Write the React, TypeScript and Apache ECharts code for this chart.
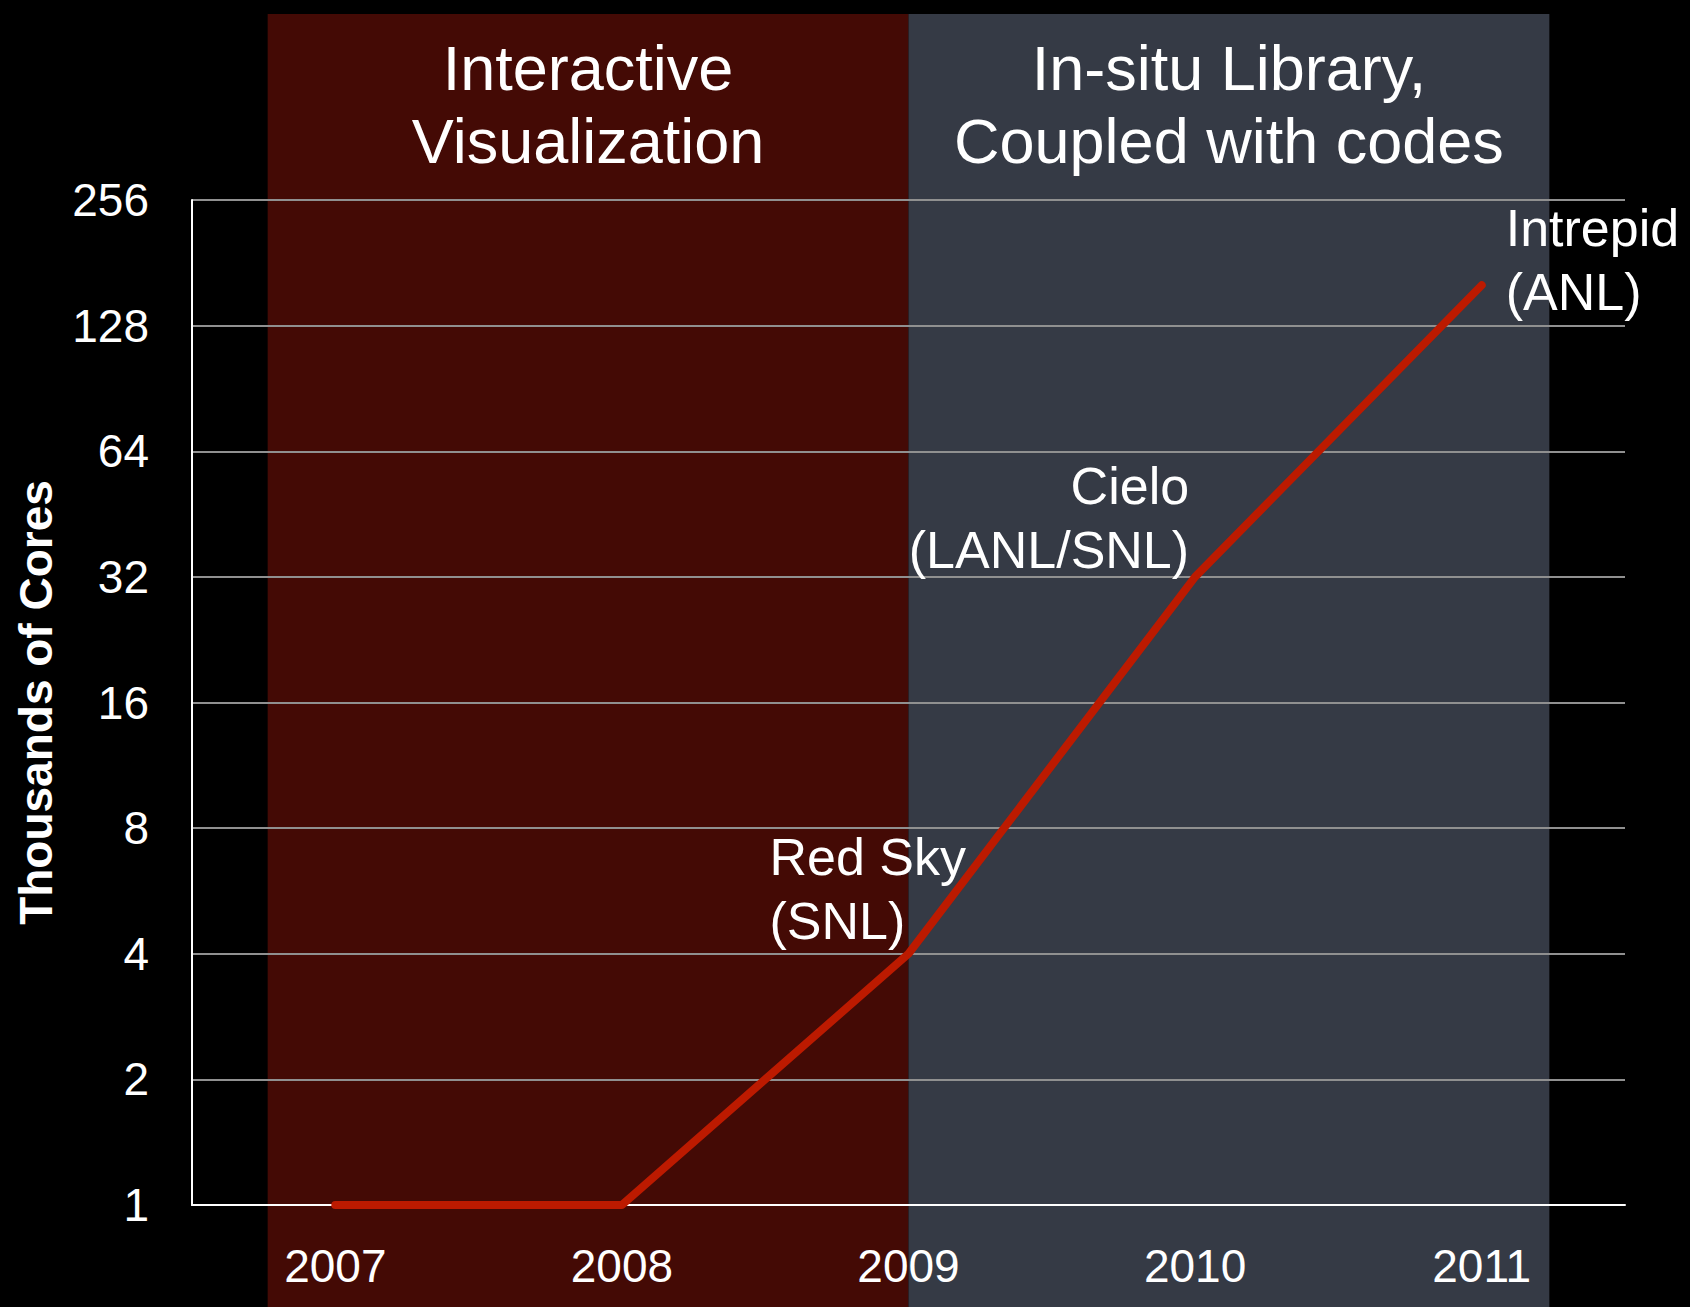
import React, { useEffect, useRef } from "react";
import * as echarts from "echarts";

const years = ["2007", "2008", "2009", "2010", "2011"];
const cores = [1, 1, 4, 32, 160];
const machineLabels = ["", "", "Red Sky\n(SNL)", "Cielo\n(LANL/SNL)", "Intrepid\n(ANL)"];
const eraTitles = ["Interactive\nVisualization", "In-situ Library,\nCoupled with codes"];

const FONT = "'Liberation Sans', Arial, Helvetica, sans-serif";

export default function App() {
  const ref = useRef<HTMLDivElement>(null);

  useEffect(() => {
    document.body.style.margin = "0";
    document.body.style.background = "#000";
    const chart = echarts.init(ref.current!, null, { renderer: "svg" });

    const labelCfg: any[] = [
      null,
      null,
      { align: "left", offset: [-139, -65] },
      { align: "right", offset: [-6, -59] },
      { align: "left", offset: [24, -25] },
    ];

    const data = cores.map((v, i) => {
      const item: any = { value: v };
      if (machineLabels[i]) {
        item.label = {
          show: true,
          formatter: machineLabels[i],
          position: "inside",
          verticalAlign: "middle",
          color: "#fff",
          fontFamily: FONT,
          fontSize: 52,
          lineHeight: 64,
          ...labelCfg[i],
        };
      }
      return item;
    });

    chart.setOption({
      animation: false,
      backgroundColor: "#000",
      grid: { left: 192, right: 65, top: 200, bottom: 102, containLabel: false },
      xAxis: {
        type: "category",
        data: years,
        boundaryGap: true,
        axisLine: { show: true, lineStyle: { color: "#fff", width: 2 } },
        axisTick: { show: false },
        axisLabel: { color: "#fff", fontFamily: FONT, fontSize: 46, margin: 38 },
        splitLine: { show: false },
      },
      yAxis: {
        type: "log",
        logBase: 2,
        min: 1,
        max: 256,
        splitNumber: 8,
        name: "Thousands of Cores",
        nameLocation: "middle",
        nameRotate: 90,
        nameGap: 133,
        nameTextStyle: { color: "#fff", fontFamily: FONT, fontSize: 46, fontWeight: "bold" },
        axisLine: { show: true, lineStyle: { color: "#fff", width: 2 } },
        axisTick: { show: false },
        axisLabel: { color: "#fff", fontFamily: FONT, fontSize: 46, margin: 43 },
        splitLine: { show: true, lineStyle: { color: "#909090", width: 2 } },
      },
      series: [
        {
          type: "line",
          data,
          symbol: "circle",
          symbolSize: 1,
          showSymbol: true,
          itemStyle: { color: "#BC1A00" },
          lineStyle: { color: "#BC1A00", width: 8, cap: "round", join: "round" },
          z: 5,
        },
      ],
    });

    const p09 = chart.convertToPixel({ xAxisIndex: 0 }, "2009") as number;
    const p10 = chart.convertToPixel({ xAxisIndex: 0 }, "2010") as number;
    const band = p10 - p09;
    const half = band * 2.236;
    const leftX = p09 - half;
    const rightX = p09 + half;
    const top = 14;
    const h = 1307 - top;

    chart.setOption({
      graphic: [
        {
          type: "rect",
          z: -100,
          silent: true,
          shape: { x: leftX, y: top, width: half, height: h },
          style: { fill: "#440A05" },
        },
        {
          type: "rect",
          z: -100,
          silent: true,
          shape: { x: p09, y: top, width: half, height: h },
          style: { fill: "#353A45" },
        },
        {
          type: "text",
          z: 10,
          x: (leftX + p09) / 2,
          y: 104,
          style: {
            text: eraTitles[0],
            fill: "#fff",
            fontSize: 63,
            fontFamily: FONT,
            lineHeight: 73,
            align: "center",
            verticalAlign: "middle",
          },
        },
        {
          type: "text",
          z: 10,
          x: (p09 + rightX) / 2,
          y: 104,
          style: {
            text: eraTitles[1],
            fill: "#fff",
            fontSize: 63,
            fontFamily: FONT,
            lineHeight: 73,
            align: "center",
            verticalAlign: "middle",
          },
        },
      ],
    });

    return () => chart.dispose();
  }, []);

  return <div ref={ref} style={{ width: 1690, height: 1307 }} />;
}
